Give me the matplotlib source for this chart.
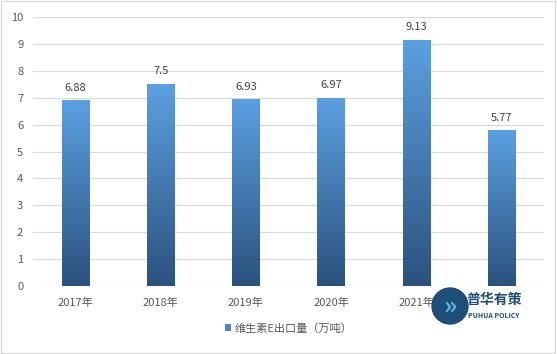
import numpy as np
import matplotlib.pyplot as plt
from matplotlib.colors import LinearSegmentedColormap
from matplotlib.patches import Rectangle, Ellipse

plt.rcParams['font.family'] = ['Noto Sans CJK SC', 'DejaVu Sans']

years = ['2017年', '2018年', '2019年', '2020年', '2021年', '2022年']
values = [6.88, 7.5, 6.93, 6.97, 9.13, 5.77]
labels = ['6.88', '7.5', '6.93', '6.97', '9.13', '5.77']
legend_name = '维生素E出口量（万吨）'

W, H = 557, 354
fig = plt.figure(figsize=(W / 100, H / 100), dpi=100)
ax = fig.add_axes([0.0592, 0.192, 0.9175, 0.76])

cmap = LinearSegmentedColormap.from_list('bar', ['#2B527D', '#5BA0E2'])
grad = np.linspace(0, 1, 256).reshape(-1, 1)
w = 0.32
x = np.arange(len(values))
for xi, v, lab in zip(x, values, labels):
    ax.imshow(grad, extent=[xi - w / 2, xi + w / 2, 0, v], origin='lower',
              cmap=cmap, aspect='auto', zorder=2)
    ax.text(xi, v + 0.3, lab, ha='center', va='bottom', fontsize=8, color='#404040')

ax.set_xlim(-0.5, len(values) - 0.5)
ax.set_ylim(0, 10)
ax.set_yticks(range(0, 11))
ax.set_xticks(x)
ax.set_xticklabels(years)
ax.tick_params(length=0, labelsize=8, colors='#595959')
ax.tick_params(axis='y', pad=7)
ax.tick_params(axis='x', pad=8)
ax.grid(axis='y', color='#D9D9D9', linewidth=0.8, zorder=0)
for s in ax.spines.values():
    s.set_visible(False)

# legend
ax.bar([0], [0], color='#4A86C5', label=legend_name)
ax.legend(loc='upper center', bbox_to_anchor=(0.5, -0.10), frameon=False,
          fontsize=8, handlelength=0.6, handleheight=0.6, handletextpad=0.3,
          labelcolor='#595959')

# figure border
fig.patches.append(Rectangle((0.002, 0.003), 0.995, 0.994, transform=fig.transFigure,
                             fill=False, edgecolor='#D9D9D9', linewidth=1))

# watermark logo
fig.patches.append(Rectangle((462 / W, 1 - 323 / H), 68 / W, 33 / H,
                             transform=fig.transFigure, color='white', zorder=5))
fig.patches.append(Ellipse((450 / W, 1 - 306 / H), 36 / W, 36 / H,
                           transform=fig.transFigure, color='#1F4E79', zorder=5))
fig.text(450 / W, 1 - 307 / H, '»', fontsize=18, color='#5DB4E8', ha='center',
         va='center', fontweight='bold', zorder=6)
fig.text(494 / W, 1 - 300 / H, '普华有策', fontsize=10, color='#1F4E79', ha='center',
         va='center', fontweight='bold', zorder=6)
fig.text(494 / W, 1 - 315 / H, 'PUHUA POLICY', fontsize=5, color='#1F4E79',
         ha='center', va='center', fontweight='bold', zorder=6)

fig.savefig('out.png', dpi=100)
